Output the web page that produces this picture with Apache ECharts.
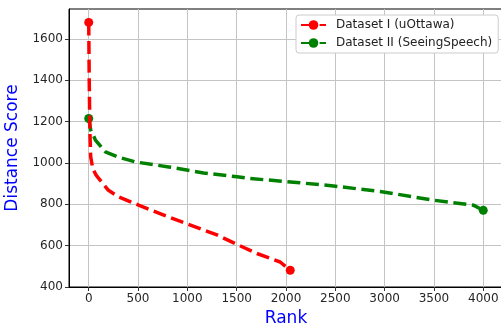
<!DOCTYPE html>
<html><head><meta charset="utf-8">
<script src="https://cdn.jsdelivr.net/npm/echarts@6/dist/echarts.min.js"></script>
<style>html,body{margin:0;padding:0;background:#fff}#c{width:501px;height:327px}</style>
</head><body><div id="c"></div>
<script>
const seriesNames = ['Dataset I (uOttawa)', 'Dataset II (SeeingSpeech)'];
const rankI  = [0, 5, 12, 20, 40, 70, 101, 200, 304, 506, 810, 1080, 1300, 1503, 1705, 1941, 2043];
const scoreI = [1680, 1400, 1150, 1030, 975, 945, 925, 868, 836, 796, 739, 691, 652, 606, 562, 521, 481];
const rankII  = [0, 20, 68, 169, 300, 473, 810, 1165, 1503, 1637, 2142, 2481, 2987, 3494, 3899, 4000];
const scoreII = [1215, 1160, 1111, 1054, 1028, 1005, 981, 952, 933, 925, 904, 889, 860, 820, 796, 771];
const xTicks = [0, 500, 1000, 1500, 2000, 2500, 3000, 3500, 4000];
const yTicks = [400, 600, 800, 1000, 1200, 1400, 1600];

function pts(xs, ys) {
  return xs.map((x, i) => {
    const end = i === 0 || i === xs.length - 1;
    return end ? {value: [x, ys[i]]} : {value: [x, ys[i]], symbol: 'none'};
  });
}
const tickFont = {fontFamily: 'DejaVu Sans', fontSize: 12, color: '#262626', formatter: v => String(v)};
const chart = echarts.init(document.getElementById('c'), null, {renderer: 'canvas'});
chart.setOption({
  animation: false,
  backgroundColor: '#fff',
  grid: {left: 69, right: -2, top: 9, bottom: 40, containLabel: false, outerBoundsMode: 'none',
         show: true, borderColor: '#000', borderWidth: 1, backgroundColor: 'transparent'},
  legend: {
    left: 296, top: 15, orient: 'vertical',
    padding: [4, 6, 4, 4], itemGap: 6, itemWidth: 25, itemHeight: 12,
    backgroundColor: '#fff', borderColor: '#cccccc', borderWidth: 1, borderRadius: 3,
    textStyle: {fontFamily: 'DejaVu Sans', fontSize: 12, color: '#222', padding: [0, 0, 0, 5]},
    data: seriesNames
  },
  xAxis: {
    type: 'value', min: -200, max: 4200,
    name: 'Rank', nameLocation: 'middle', nameGap: 23,
    nameTextStyle: {fontFamily: 'DejaVu Sans', fontSize: 17, color: '#0000ff'},
    axisLine: {show: true, onZero: false, lineStyle: {color: '#000', width: 1}},
    axisTick: {show: true, length: 4, customValues: xTicks, lineStyle: {color: '#333'}},
    axisLabel: Object.assign({customValues: xTicks, margin: 6}, tickFont),
    splitLine: {show: true, lineStyle: {color: '#c4c4c4', width: 1}}
  },
  yAxis: {
    type: 'value', min: 400, max: 1745,
    name: 'Distance Score', nameLocation: 'middle', nameGap: 43,
    nameTextStyle: {fontFamily: 'DejaVu Sans', fontSize: 17, color: '#0000ff'},
    axisLine: {show: true, onZero: false, lineStyle: {color: '#000', width: 1}},
    axisTick: {show: true, length: 4, customValues: yTicks, lineStyle: {color: '#333'}},
    axisLabel: Object.assign({customValues: yTicks, margin: 6}, tickFont),
    splitLine: {show: true, lineStyle: {color: '#c4c4c4', width: 1}}
  },
  series: [
    {name: seriesNames[0], type: 'line', data: pts(rankI, scoreI), smooth: false,
     symbol: 'circle', symbolSize: 9, showSymbol: true, color: '#ff0000',
     lineStyle: {color: '#ff0000', width: 3.5, type: [13, 5.6], cap: 'butt'},
     itemStyle: {color: '#ff0000'}, z: 3},
    {name: seriesNames[1], type: 'line', data: pts(rankII, scoreII), smooth: false,
     symbol: 'circle', symbolSize: 9, showSymbol: true, color: '#008000',
     lineStyle: {color: '#008000', width: 3.5, type: [13, 5.6], cap: 'butt'},
     itemStyle: {color: '#008000'}, z: 2}
  ]
});
</script></body></html>
